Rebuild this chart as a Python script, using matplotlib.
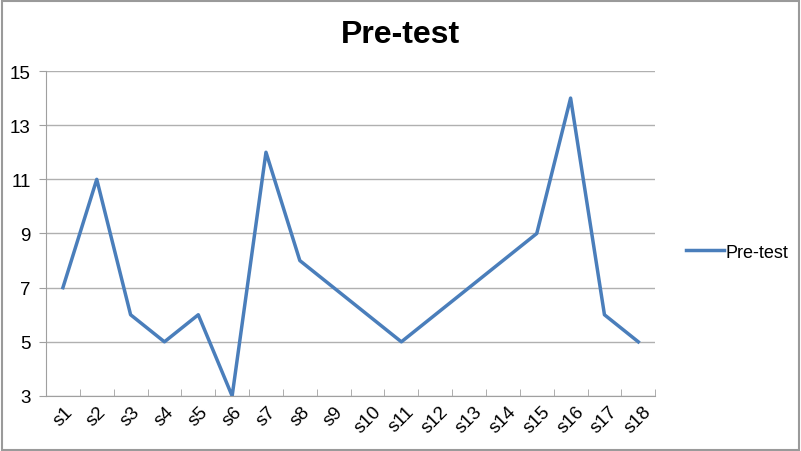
import matplotlib
matplotlib.use("Agg")
from matplotlib import pyplot as plt
from matplotlib.patches import Rectangle
import numpy as np

plt.rcParams['font.family'] = ['Liberation Sans', 'DejaVu Sans']

students = ['s' + str(i) for i in range(1, 19)]
pre_test = [7, 11, 6, 5, 6, 3, 12, 8, 7, 6, 5, 6, 7, 8, 9, 14, 6, 5]
y_ticks = [3, 5, 7, 9, 11, 13, 15]

fig = plt.figure(figsize=(8.01, 4.52), dpi=100)
ax = fig.add_axes([0.0574, 0.1217, 0.7606, 0.719])

x = np.arange(len(students))
ax.plot(x, pre_test, color='#4A7EBB', linewidth=2.5, label='Pre-test')

ax.set_xlim(-0.5, len(students) - 0.5)
ax.set_ylim(3, 15)
ax.set_yticks(y_ticks)
ax.set_yticklabels([str(v) for v in y_ticks], fontsize=13.5)
ax.set_xticks(x)
ax.set_xticklabels(students, rotation=45, fontsize=13.5, ha='center', va='top')
ax.set_xticks(np.arange(-0.5, len(students)), minor=True)
ax.tick_params(axis='x', which='major', length=0, pad=5)
ax.tick_params(axis='x', which='minor', length=5, color='#A0A0A0', direction='in')
ax.tick_params(axis='y', length=5, color='#A0A0A0', pad=6)

ax.grid(axis='y', color='#B0B0B0', linewidth=1)
ax.set_axisbelow(True)
for side in ['top', 'right']:
    ax.spines[side].set_visible(False)
ax.spines['left'].set_color('#A0A0A0')
ax.spines['bottom'].set_color('#A0A0A0')

fig.suptitle('Pre-test', fontsize=23, fontweight='bold', y=0.955)
fig.legend(loc='center left', bbox_to_anchor=(0.836, 0.44), frameon=False,
           fontsize=13, handlelength=2.1, handletextpad=0.1)

# grey border round the whole picture
fig.patches.append(Rectangle((0.002, 0.003), 0.995, 0.993, transform=fig.transFigure,
                             fill=False, edgecolor='#9A9A9A', linewidth=1.5))

fig.savefig('out.png', dpi=100)
